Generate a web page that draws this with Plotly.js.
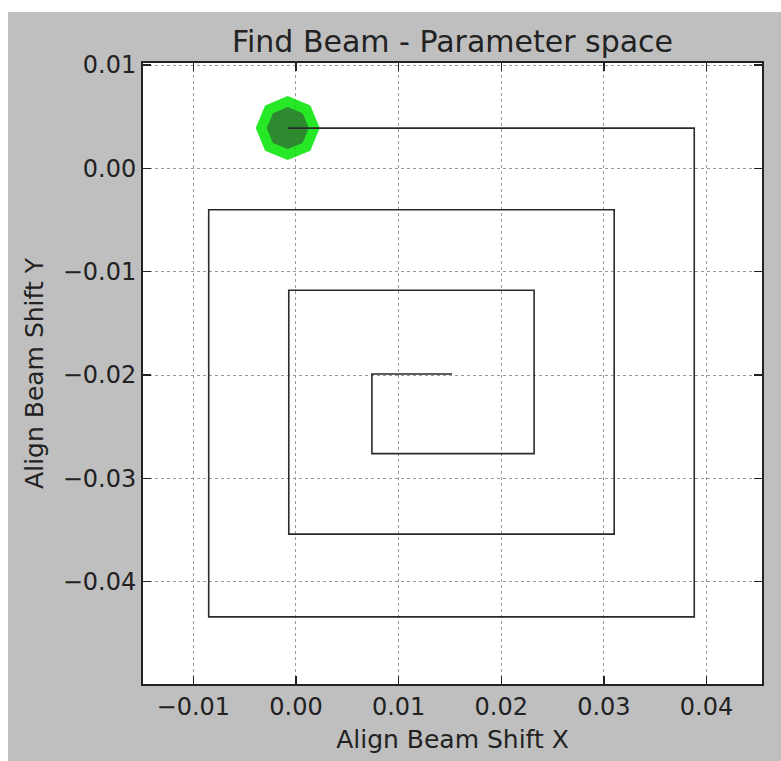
<!DOCTYPE html>
<html>
<head>
<meta charset="utf-8">
<script src="https://cdn.plot.ly/plotly-3.0.1.min.js"></script>
<style>
  html, body { margin: 0; padding: 0; background: #ffffff; width: 781px; height: 761px; overflow: hidden; }
  #chart { position: absolute; left: 8px; top: 12px; width: 773px; height: 749px; }
</style>
</head>
<body>
<div id="chart"></div>
<script>
// Path of the beam search (spiral)
const pathX = [0.0152, 0.0074, 0.0074, 0.0232, 0.0232, -0.0007, -0.0007, 0.0310, 0.0310, -0.0085, -0.0085, 0.0388, 0.0388, -0.0008];
const pathY = [-0.0199, -0.0199, -0.0276, -0.0276, -0.0118, -0.0118, -0.0354, -0.0354, -0.0040, -0.0040, -0.0434, -0.0434, 0.0039, 0.0039];

// Found beam position
const foundX = [-0.0008];
const foundY = [0.0039];

const xTicks = [-0.01, 0.00, 0.01, 0.02, 0.03, 0.04];
const yTicks = [-0.04, -0.03, -0.02, -0.01, 0.00, 0.01];

const chartTitle = 'Find Beam - Parameter space';
const xLabel = 'Align Beam Shift X';
const yLabel = 'Align Beam Shift Y';

const FONT = 'DejaVu Sans, sans-serif';

const traces = [
  {
    x: foundX, y: foundY, type: 'scatter', mode: 'markers', hoverinfo: 'skip',
    marker: { symbol: 'octagon', angle: 22.5, size: 64, color: 'rgba(0,228,0,0.85)', line: { width: 0 } }
  },
  {
    x: foundX, y: foundY, type: 'scatter', mode: 'markers', hoverinfo: 'skip',
    marker: { symbol: 'octagon', angle: 22.5, size: 42, color: '#2e8a2e', line: { width: 0 } }
  },
  {
    x: pathX, y: pathY, type: 'scatter', mode: 'lines',
    line: { color: '#2a2a2a', width: 1.6 }
  }
];

const axisCommon = {
  showline: true, linecolor: '#222', linewidth: 2, mirror: 'ticks',
  ticks: 'inside', ticklen: 8, tickwidth: 1.2, tickcolor: '#222',
  showgrid: true, gridcolor: '#9a9a9a', griddash: 'dot', gridwidth: 1,
  zeroline: false, tickmode: 'array', tickformat: '.2f',
  tickfont: { family: FONT, size: 24, color: '#222' },
  automargin: false
};

const layout = {
  width: 773, height: 749,
  paper_bgcolor: '#bfbfbf', plot_bgcolor: '#ffffff',
  showlegend: false,
  margin: { l: 135, r: 19, t: 51, b: 77 },
  title: {
    text: chartTitle, x: 0.5, xref: 'paper', xanchor: 'center',
    y: 0.96, yref: 'container', yanchor: 'middle',
    font: { family: FONT, size: 30, color: '#222' }
  },
  xaxis: Object.assign({}, axisCommon, {
    range: [-0.0149, 0.0454], tickvals: xTicks,
    title: { text: xLabel, standoff: 11, font: { family: FONT, size: 25, color: '#222' } }
  }),
  yaxis: Object.assign({}, axisCommon, {
    range: [-0.0499, 0.0102], tickvals: yTicks,
    title: { text: yLabel, standoff: 12, font: { family: FONT, size: 25, color: '#222' } }
  })
};

Plotly.newPlot('chart', traces, layout, { staticPlot: true, displayModeBar: false });
</script>
</body>
</html>
